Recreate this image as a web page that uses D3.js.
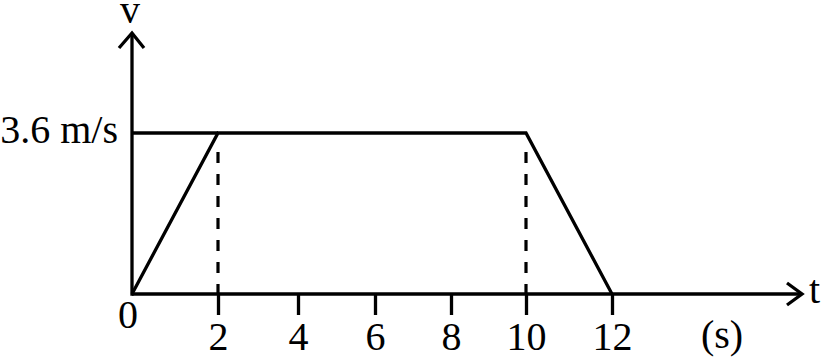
<!DOCTYPE html>
<meta charset='utf-8'>
<html>
    <head>
        <script src="https://d3js.org/d3.v7.min.js" charset="utf-8"></script>
        <style>
            body { margin: 0; background: #fff; }
            text { font-family: 'Liberation Serif', 'Times New Roman', serif; font-size: 40px; fill: #000; }
        </style>
    </head>
    <body>
        <div id="chart-container"></div>
        <script>
            // data
            const tickValues = [2, 4, 6, 8, 10, 12];
            const tickLabels = ['2', '4', '6', '8', '10', '12'];
            const times = [0, 2, 10, 12];
            const speeds = [0, 3.6, 3.6, 0];
            const vMax = 3.6;
            const vLabel = '3.6 m/s';

            const svgWidth = 829;
            const svgHeight = 358;

            const svg = d3.select('#chart-container')
                .append('svg')
                .attr('width', svgWidth)
                .attr('height', svgHeight);

            // the original is hand drawn, so the tick spacing is a bit uneven
            const x = d3.scaleLinear()
                .domain([0, 2, 4, 6, 8, 10, 12])
                .range([132, 218, 298, 375, 451, 526, 612]);

            const y = d3.scaleLinear()
                .domain([0, vMax])
                .range([294, 133]);

            const xEnd = 802;   // tip of the t arrow
            const yEnd = 33;    // tip of the v arrow
            const sw = 3.3;

            // x axis ticks + labels
            const xAxis = svg.append('g')
                .attr('transform', 'translate(0,' + y(0) + ')')
                .call(d3.axisBottom(x)
                    .tickValues(tickValues)
                    .tickFormat((d, i) => tickLabels[i])
                    .tickSizeInner(21)
                    .tickSizeOuter(0)
                    .tickPadding(7));
            xAxis.select('.domain').remove();
            xAxis.selectAll('line').attr('stroke', '#000').attr('stroke-width', 3.3);
            xAxis.selectAll('text')
                .attr('fill', '#000')
                .style('font-family', "'Liberation Serif', serif")
                .style('font-size', '40px');

            // axis lines
            svg.append('line')
                .attr('x1', x(0)).attr('y1', y(0))
                .attr('x2', xEnd).attr('y2', y(0))
                .attr('stroke', '#000').attr('stroke-width', sw);
            svg.append('line')
                .attr('x1', x(0)).attr('y1', y(0) + sw / 2)
                .attr('x2', x(0)).attr('y2', yEnd)
                .attr('stroke', '#000').attr('stroke-width', sw);

            // arrow heads (open chevrons)
            svg.append('path')
                .attr('d', d3.line()([[xEnd - 15, y(0) - 11], [xEnd, y(0)], [xEnd - 15, y(0) + 11]]))
                .attr('fill', 'none').attr('stroke', '#000').attr('stroke-width', sw);
            svg.append('path')
                .attr('d', d3.line()([[x(0) - 13, yEnd + 15], [x(0), yEnd], [x(0) + 12, yEnd + 15]]))
                .attr('fill', 'none').attr('stroke', '#000').attr('stroke-width', sw);

            // dashed drop lines
            svg.selectAll('.drop')
                .data(times.filter((t, i) => speeds[i] === vMax))
                .enter().append('line')
                .classed('drop', true)
                .attr('x1', d => x(d)).attr('x2', d => x(d))
                .attr('y1', y(vMax) + 19).attr('y2', y(0))
                .attr('stroke', '#000').attr('stroke-width', 3.2)
                .attr('stroke-dasharray', '11,11');

            // v = 3.6 reference from the axis
            svg.append('line')
                .attr('x1', x(0)).attr('y1', y(vMax))
                .attr('x2', x(times[1])).attr('y2', y(vMax))
                .attr('stroke', '#000').attr('stroke-width', sw);

            // velocity graph
            const pts = times.map((t, i) => [x(t), y(speeds[i])]);
            svg.append('path')
                .attr('d', d3.line()(pts))
                .attr('fill', 'none')
                .attr('stroke', '#000')
                .attr('stroke-width', sw)
                .attr('stroke-linejoin', 'miter');

            // labels
            svg.append('text')
                .attr('x', x(0) - 4).attr('y', 328)
                .attr('text-anchor', 'middle')
                .text('0');
            svg.append('text')
                .attr('x', x(0) - 14).attr('y', y(vMax) + 10)
                .attr('text-anchor', 'end')
                .text(vLabel);
            svg.append('text')
                .attr('x', x(0) - 2).attr('y', 23)
                .attr('text-anchor', 'middle')
                .text('v');
            svg.append('text')
                .attr('x', 809).attr('y', y(0) + 9)
                .text('t');
            svg.append('text')
                .attr('x', 722).attr('y', 348)
                .attr('text-anchor', 'middle')
                .text('(s)');
        </script>
    </body>
</html>
